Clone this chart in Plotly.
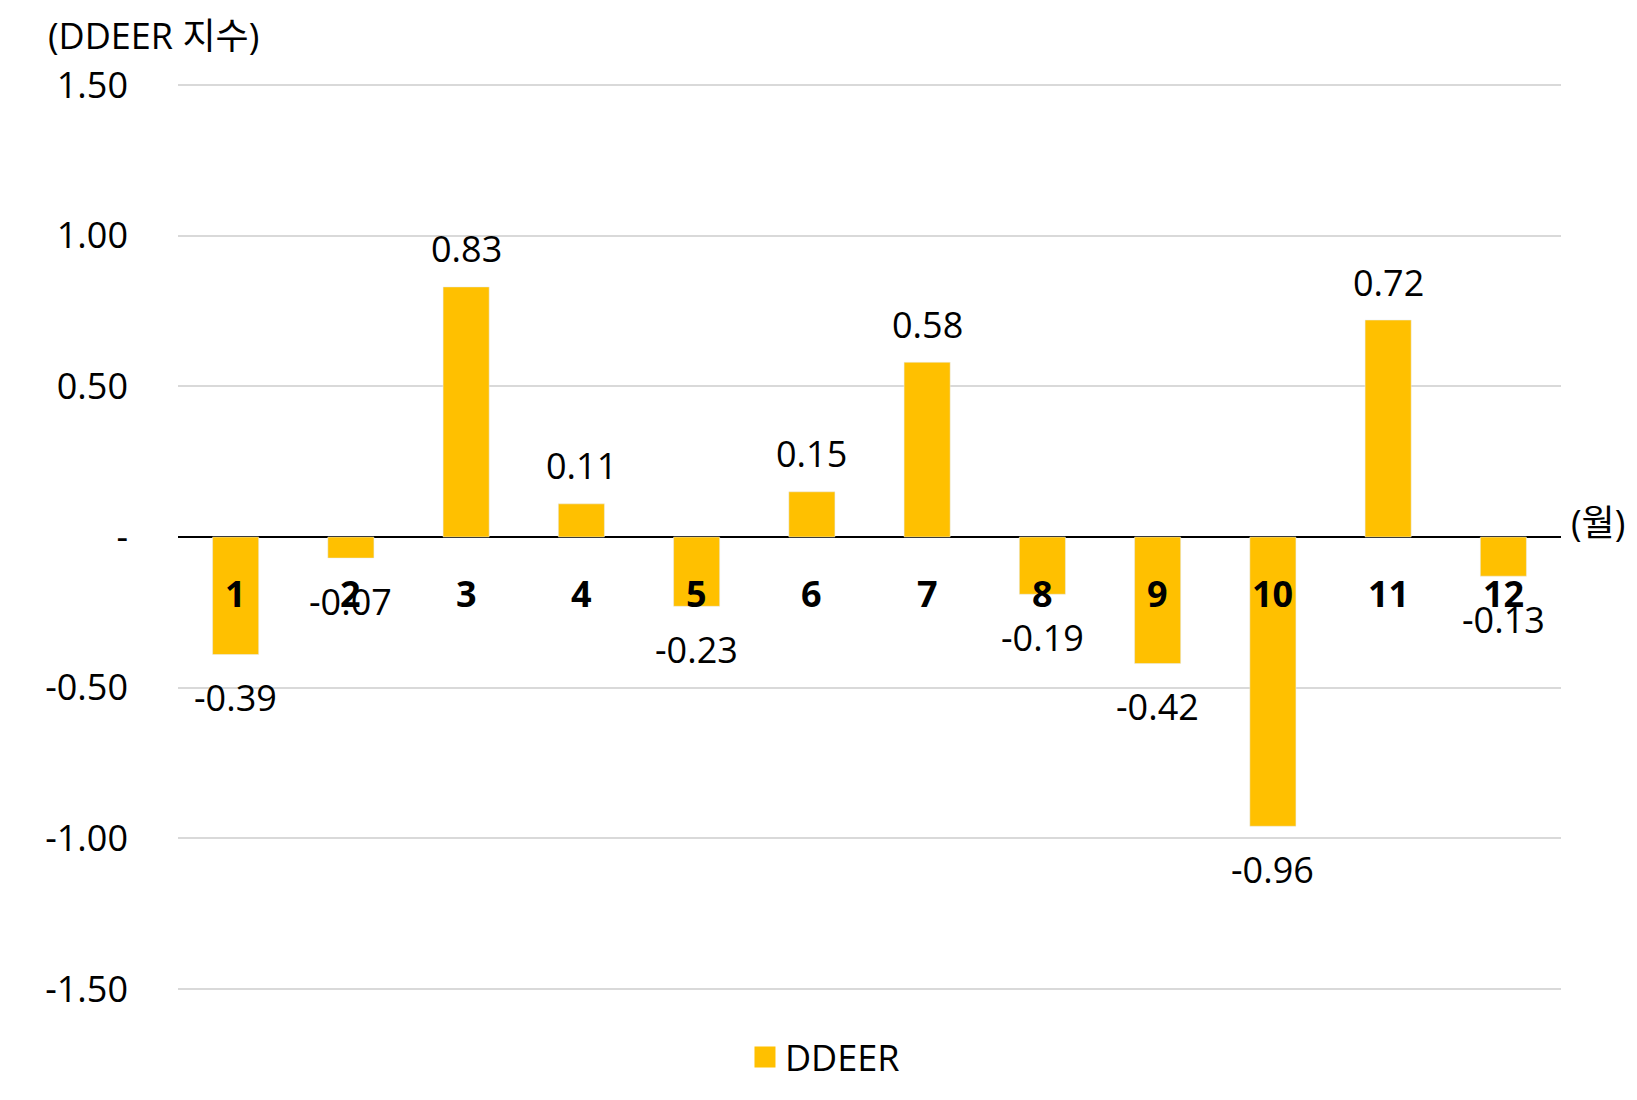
import plotly.graph_objects as go

months = ["1", "2", "3", "4", "5", "6", "7", "8", "9", "10", "11", "12"]
ddeer = [-0.39, -0.07, 0.83, 0.11, -0.23, 0.15, 0.58, -0.19, -0.42, -0.96, 0.72, -0.13]
tick_vals = [1.5, 1.0, 0.5, 0.0, -0.5, -1.0, -1.5]
tick_text = ["1.50", "1.00", "0.50", "-", "-0.50", "-1.00", "-1.50"]
y_title = "(DDEER 지수)"
x_title = "(월)"
series_name = "DDEER"

FONT = "Open Sans, Noto Sans CJK KR, sans-serif"
FS = 36
BAR = "#FFC000"

fig = go.Figure()
fig.add_trace(go.Bar(x=months, y=ddeer, name=series_name, marker_color=BAR,
                     width=0.4, showlegend=False))
fig.add_trace(go.Scatter(x=[None], y=[None], mode="markers", name=series_name,
                         marker=dict(symbol="square", size=16, color=BAR,
                                     line=dict(color=BAR, width=5)),
                         showlegend=True))

ann = []
for i, v in enumerate(ddeer):
    ann.append(dict(x=i, y=v, xref="x", yref="y", text=f"{v:.2f}", showarrow=False,
                    yanchor="middle", yshift=38 if v >= 0 else -43,
                    font=dict(family=FONT, size=FS, color="black")))
for i, m in enumerate(months):
    ann.append(dict(x=i, y=0, xref="x", yref="y", text=f"<b>{m}</b>", showarrow=False,
                    yanchor="middle", yshift=-56,
                    font=dict(family=FONT, size=FS, color="black")))
ann.append(dict(x=-0.0952, y=1.0475, xref="paper", yref="paper", text=y_title, showarrow=False,
                xanchor="left", yanchor="middle", font=dict(family=FONT, size=FS, color="black")))
ann.append(dict(x=1.006, y=0, xref="paper", yref="y", text=x_title, showarrow=False,
                xanchor="left", yanchor="middle", yshift=15,
                font=dict(family=FONT, size=FS, color="black")))

fig.update_layout(
    width=1621, height=1084,
    margin=dict(l=170, r=68, t=71, b=97),
    plot_bgcolor="white", paper_bgcolor="white",
    font=dict(family=FONT, size=FS, color="black"),
    annotations=ann,
    legend=dict(orientation="h", xref="container", yref="container", x=0.504, y=0.0323,
                xanchor="center", yanchor="middle", itemsizing="trace",
                font=dict(family=FONT, size=FS)),
    xaxis=dict(type="category", showticklabels=False, showgrid=False, zeroline=False,
               showline=False, range=[-0.5, 11.5]),
    yaxis=dict(range=[-1.52, 1.52], tickvals=tick_vals, ticktext=tick_text,
               showgrid=True, gridcolor="#D9D9D9", gridwidth=2,
               zeroline=True, zerolinecolor="black", zerolinewidth=2,
               showline=False, ticklabelstandoff=49,
               tickfont=dict(family=FONT, size=FS, color="black")),
)

fig.write_html("out.html")
